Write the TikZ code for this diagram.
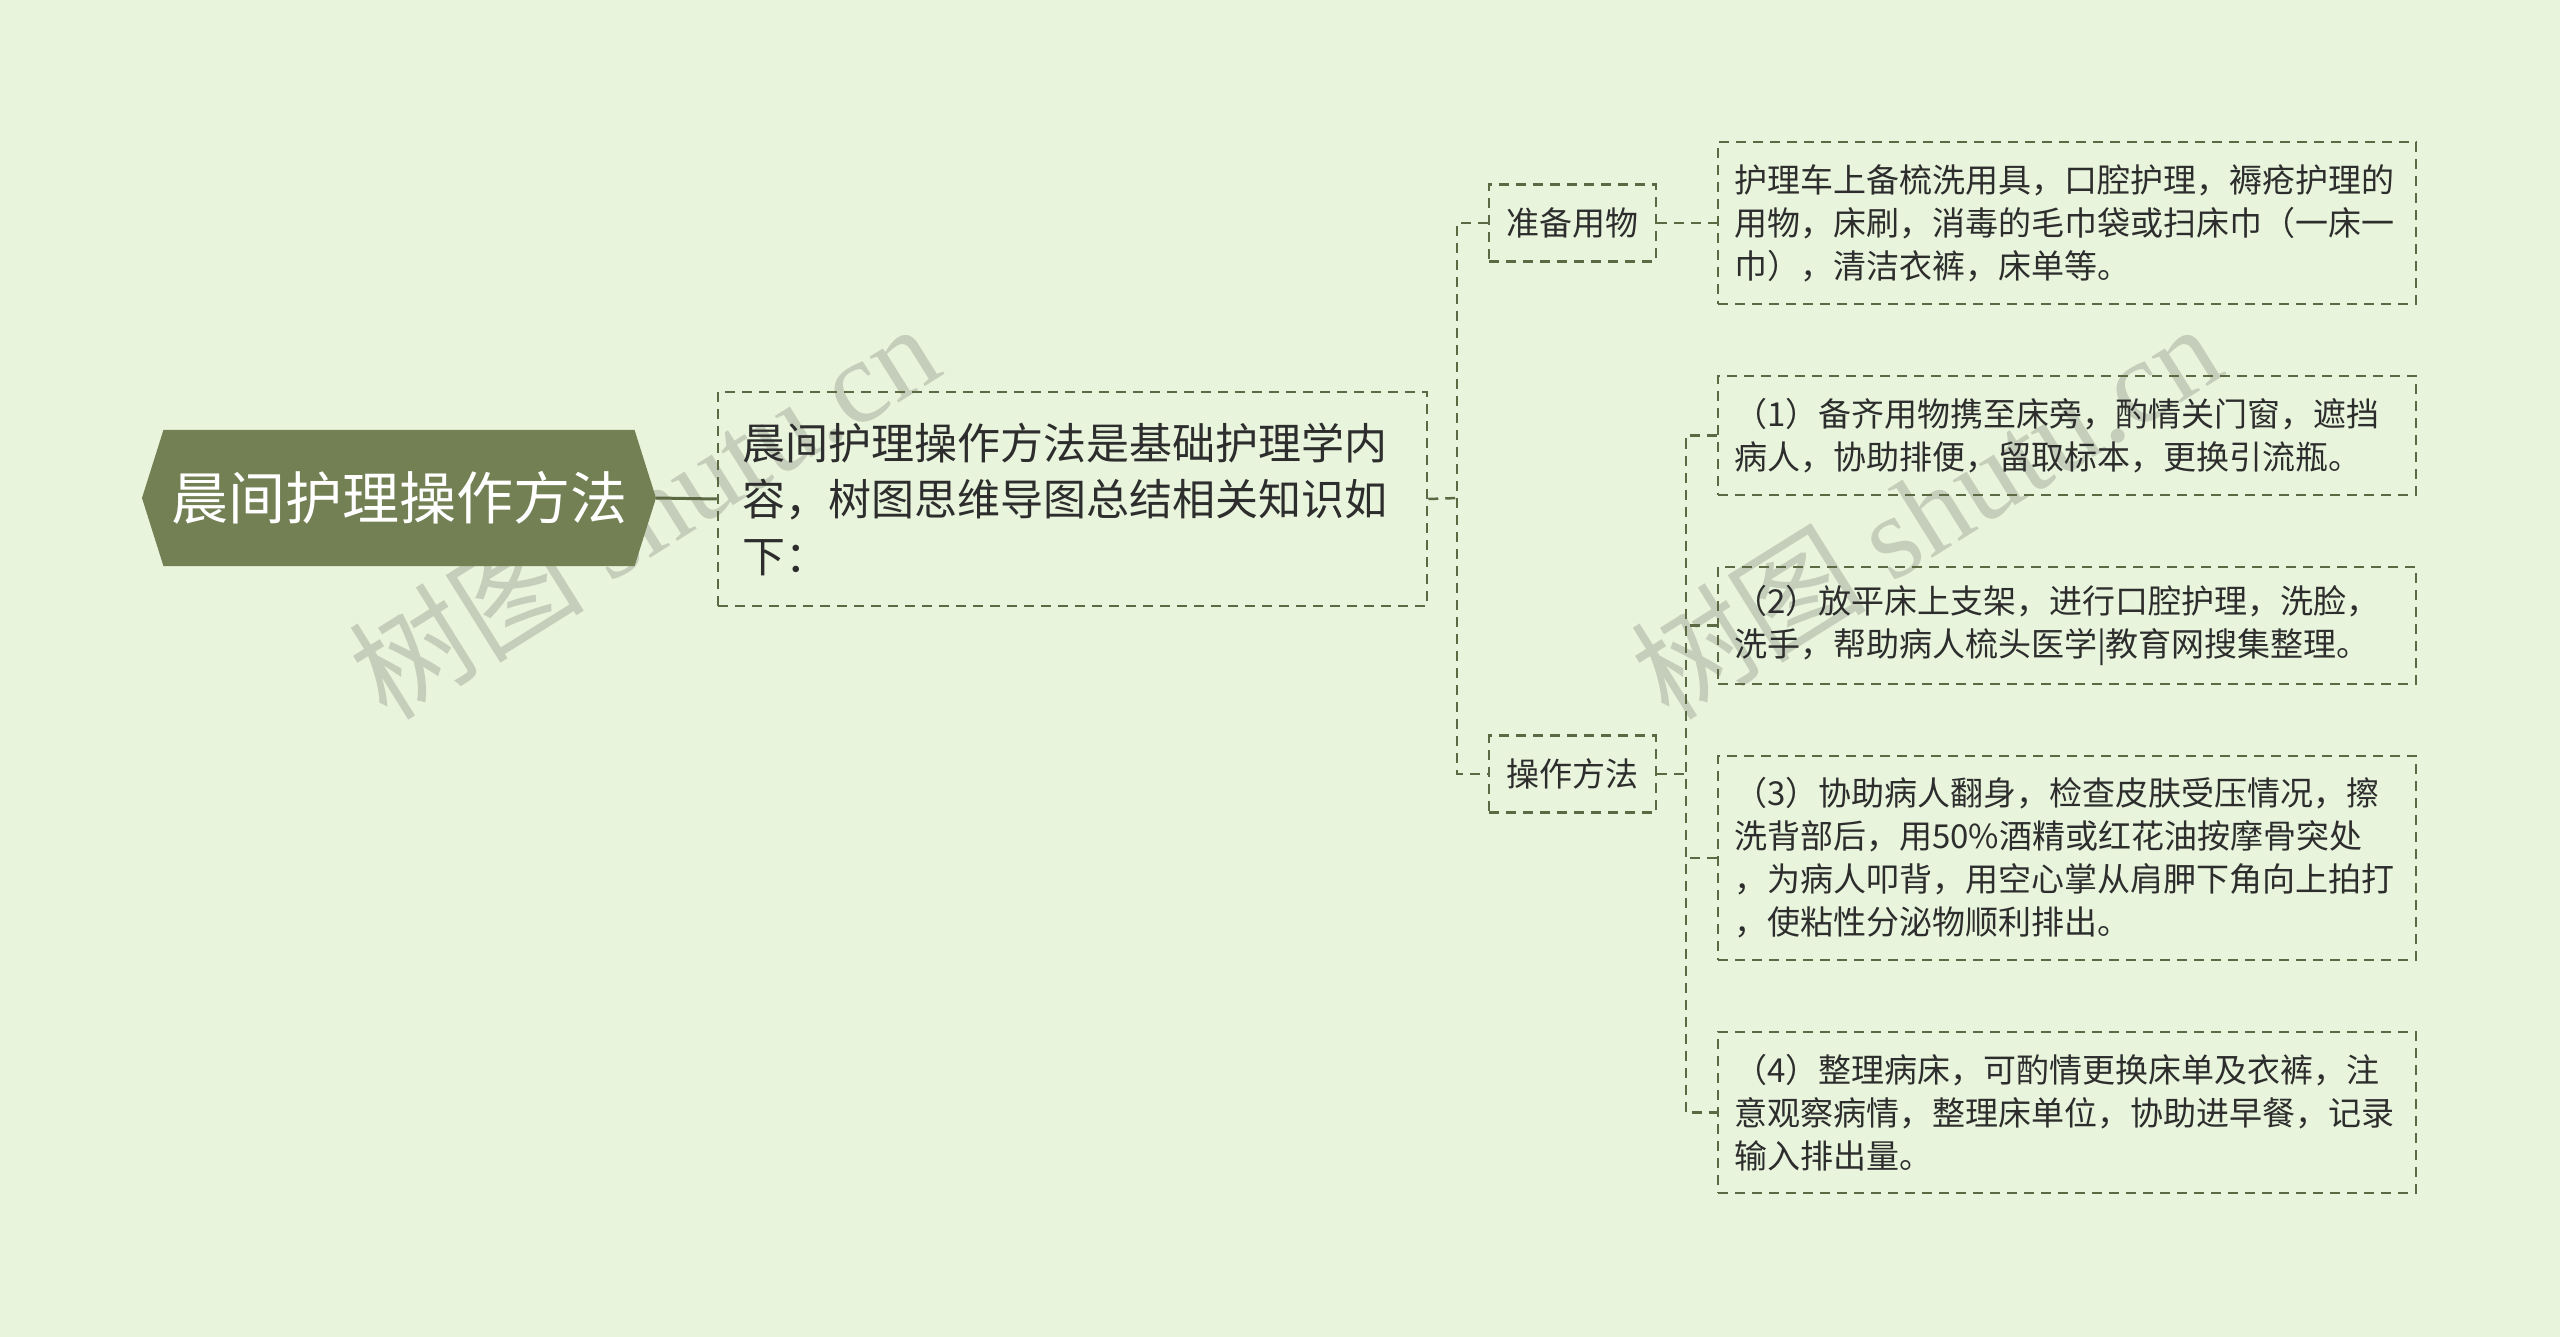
\documentclass[tikz,border=0pt]{standalone}
\usepackage{fontspec}
\setmainfont{Noto Sans CJK SC}
\newfontfamily\wmlatin{Liberation Serif}
\usepackage{xcolor}
\definecolor{mmbg}{RGB}{232,245,220}
\definecolor{mmolive}{RGB}{114,128,84}
\definecolor{mmline}{RGB}{92,106,68}
\definecolor{mmtext}{RGB}{45,45,45}
\definecolor{mmmark}{RGB}{196,206,186}
\usetikzlibrary{shapes.symbols}
\tikzset{
  rootnode/.style={signal, signal to=west and east, signal pointer angle=145, fill=mmolive, text=white,
    minimum width=514pt, minimum height=136pt, inner sep=0pt, font=\fontsize{57}{68}\selectfont},
  sumbox/.style={draw=mmline, line width=2.5pt, dash pattern=on 10pt off 7pt, text=mmtext, text width=660pt,
    align=left, minimum width=709pt, minimum height=214pt, inner sep=0pt, font=\fontsize{43}{56.5}\selectfont},
  labbox/.style={draw=mmline, line width=2.5pt, dash pattern=on 10pt off 7pt, text=mmtext,
    minimum width=167pt, minimum height=77pt, inner sep=0pt, font=\fontsize{33}{43}\selectfont},
  detbox/.style={draw=mmline, line width=2.5pt, dash pattern=on 10pt off 7pt, text=mmtext, text width=666pt,
    align=left, minimum width=698pt, inner sep=0pt, font=\fontsize{33}{43}\selectfont},
  link/.style={draw=mmline, line width=2.5pt, dash pattern=on 10pt off 7pt},
  watermark/.style={text=mmmark, rotate=32, font=\fontsize{118}{128}\selectfont}
}

\begin{document}
\begin{tikzpicture}[x=1pt, y=-1pt]
  \fill[mmbg] (0,0) rectangle (2560,1337);
  \useasboundingbox (0,0) rectangle (2560,1337);

  % watermarks
  \node[watermark] (wm1) at (643,510) {树图 {\wmlatin shutu.cn}};
  \node[watermark] (wm2) at (1925,510) {树图 {\wmlatin shutu.cn}};

  % root and summary
  \node[rootnode] (root) at (399,498) {晨间护理操作方法};
  \node[sumbox] (sum) at (1072.5,499) {晨间护理操作方法是基础护理学内\\容，树图思维导图总结相关知识如\\下：};
  \draw[mmline, line width=3pt] (root.east) -- (sum.west);

  % second level
  \node[labbox] (prep) at (1572.5,223) {准备用物};
  \node[labbox] (op) at (1572.5,774) {操作方法};
  \draw[link] (sum.east) -- (1458,498);
  \draw[link] (prep.west) -- ++(-31,0) |- (op.west);

  % details
  \node[detbox, minimum height=162pt] (d0) at (2067,223) {护理车上备梳洗用具，口腔护理，褥疮护理的\\用物，床刷，消毒的毛巾袋或扫床巾（一床一\\巾），清洁衣裤，床单等。};
  \node[detbox, minimum height=119pt] (d1) at (2067,435.5) {（1）备齐用物携至床旁，酌情关门窗，遮挡\\病人，协助排便，留取标本，更换引流瓶。};
  \node[detbox, minimum height=117pt] (d2) at (2067,625.5) {（2）放平床上支架，进行口腔护理，洗脸，\\洗手，帮助病人梳头医学|教育网搜集整理。};
  \node[detbox, minimum height=204pt] (d3) at (2067,858) {（3）协助病人翻身，检查皮肤受压情况，擦\\洗背部后，用50\%酒精或红花油按摩骨突处\\，为病人叩背，用空心掌从肩胛下角向上拍打\\，使粘性分泌物顺利排出。};
  \node[detbox, minimum height=161pt] (d4) at (2067,1112.5) {（4）整理病床，可酌情更换床单及衣裤，注\\意观察病情，整理床单位，协助进早餐，记录\\输入排出量。};

  \draw[link] (prep.east) -- (d0.west);
  \draw[link] (op.east) -- ++(31,0);
  \draw[link] (d1.west) -- ++(-31,0) |- (d4.west);
  \draw[link] (d2.west) -- ++(-31,0);
  \draw[link] (d3.west) -- ++(-31,0);
\end{tikzpicture}
\end{document}
